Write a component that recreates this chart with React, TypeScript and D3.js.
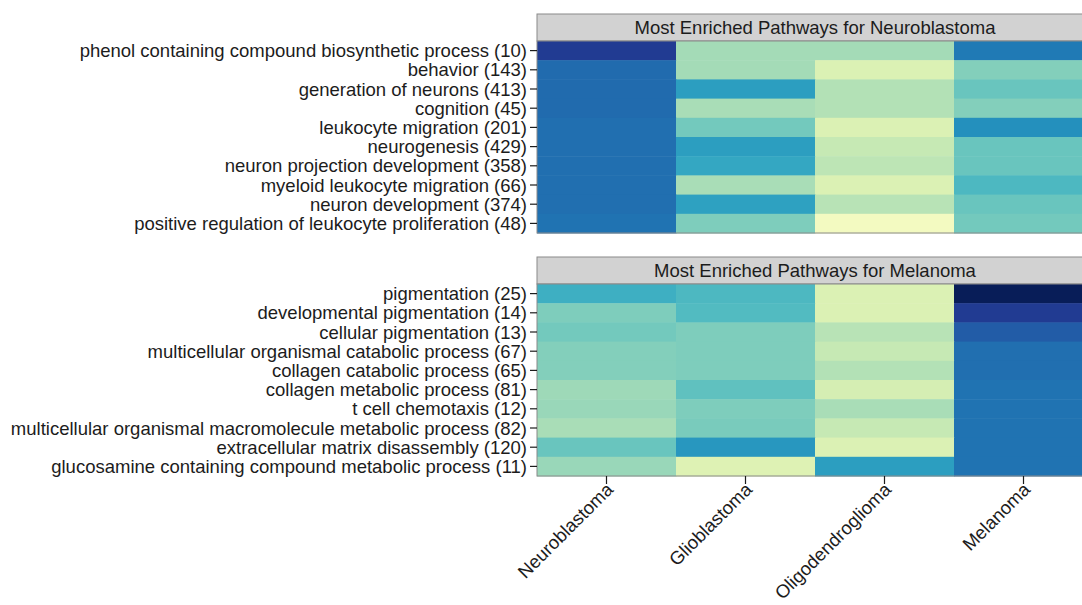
import React from "react";
import * as d3 from "d3";

// Tumour types along the x axis
const tumours = ["Neuroblastoma", "Glioblastoma", "Oligodendroglioma", "Melanoma"];

// Pathways enriched in neuroblastoma (gene counts in brackets)
const neuroPathways = [
  "phenol containing compound biosynthetic process (10)",
  "behavior (143)",
  "generation of neurons (413)",
  "cognition (45)",
  "leukocyte migration (201)",
  "neurogenesis (429)",
  "neuron projection development (358)",
  "myeloid leukocyte migration (66)",
  "neuron development (374)",
  "positive regulation of leukocyte proliferation (48)",
];

// Enrichment scores (0..1) per pathway, columns follow `tumours`
const neuroScores = [
  [0.86, 0.31, 0.31, 0.68],
  [0.72, 0.31, 0.18, 0.37],
  [0.72, 0.58, 0.28, 0.42],
  [0.72, 0.30, 0.28, 0.37],
  [0.71, 0.40, 0.18, 0.62],
  [0.71, 0.58, 0.24, 0.42],
  [0.71, 0.55, 0.26, 0.42],
  [0.71, 0.30, 0.18, 0.48],
  [0.71, 0.57, 0.27, 0.42],
  [0.70, 0.38, 0.08, 0.40],
];

// Pathways enriched in melanoma
const melanomaPathways = [
  "pigmentation (25)",
  "developmental pigmentation (14)",
  "cellular pigmentation (13)",
  "multicellular organismal catabolic process (67)",
  "collagen catabolic process (65)",
  "collagen metabolic process (81)",
  "t cell chemotaxis (12)",
  "multicellular organismal macromolecule metabolic process (82)",
  "extracellular matrix disassembly (120)",
  "glucosamine containing compound metabolic process (11)",
];

const melanomaScores = [
  [0.52, 0.48, 0.18, 1.0],
  [0.38, 0.47, 0.18, 0.86],
  [0.40, 0.38, 0.27, 0.76],
  [0.37, 0.38, 0.24, 0.71],
  [0.37, 0.38, 0.28, 0.71],
  [0.32, 0.44, 0.20, 0.70],
  [0.33, 0.38, 0.30, 0.70],
  [0.30, 0.39, 0.24, 0.70],
  [0.42, 0.60, 0.18, 0.70],
  [0.33, 0.17, 0.58, 0.70],
];

const panelTitles = [
  "Most Enriched Pathways for Neuroblastoma",
  "Most Enriched Pathways for Melanoma",
];

const W = 1082;
const H = 605;
const FONT = "'Liberation Sans', Arial, Helvetica, sans-serif";
const FONT_SIZE = 18.5;
const TEXT = "#1c1c1c";

const left = 537;
const right = 1093;
const stripH = 27;
const rowH = 19.2;

const x = d3.scaleBand<string>().domain(tumours).range([left, right]);
const colour = (v: number) => d3.interpolateYlGnBu(v);

type PanelProps = {
  title: string;
  rows: string[];
  scores: number[][];
  top: number;
  showX: boolean;
};

function Panel({ title, rows, scores, top, showX }: PanelProps) {
  const heatTop = top + stripH;
  const y = d3
    .scaleBand<string>()
    .domain(rows)
    .range([heatTop, heatTop + rows.length * rowH]);
  const bottom = heatTop + rows.length * rowH;
  return (
    <g>
      <rect
        x={left}
        y={top}
        width={right - left}
        height={stripH}
        fill="#d2d2d2"
        stroke="#8a8a8a"
        strokeWidth={1}
      />
      <text
        x={(left + right) / 2}
        y={top + stripH / 2}
        dy="0.36em"
        textAnchor="middle"
        fontFamily={FONT}
        fontSize={FONT_SIZE}
        fill={TEXT}
      >
        {title}
      </text>
      {rows.map((r, i) =>
        tumours.map((t, j) => (
          <rect
            key={r + t}
            x={x(t)!}
            y={y(r)!}
            width={x.bandwidth() + 0.5}
            height={y.bandwidth() + 0.5}
            fill={colour(scores[i][j])}
          />
        ))
      )}
      <rect
        x={left}
        y={heatTop}
        width={right - left}
        height={bottom - heatTop}
        fill="none"
        stroke="#8a8a8a"
        strokeWidth={1}
      />
      {rows.map((r) => {
        const cy = y(r)! + y.bandwidth() / 2;
        return (
          <g key={r}>
            <line x1={left - 7} x2={left} y1={cy} y2={cy} stroke={TEXT} strokeWidth={1.2} />
            <text
              x={left - 10}
              y={cy}
              dy="0.36em"
              textAnchor="end"
              fontFamily={FONT}
              fontSize={FONT_SIZE}
              fill={TEXT}
            >
              {r}
            </text>
          </g>
        );
      })}
      {showX &&
        tumours.map((t) => {
          const cx = x(t)! + x.bandwidth() / 2;
          return (
            <g key={t}>
              <line x1={cx} x2={cx} y1={bottom} y2={bottom + 8} stroke={TEXT} strokeWidth={1.2} />
              <text
                transform={`translate(${cx + 3},${bottom + 10}) rotate(-45)`}
                textAnchor="end"
                dy="0.36em"
                fontFamily={FONT}
                fontSize={FONT_SIZE}
                fill={TEXT}
              >
                {t}
              </text>
            </g>
          );
        })}
    </g>
  );
}

export default function App() {
  return (
    <svg
      width={W}
      height={H}
      viewBox={`0 0 ${W} ${H}`}
      style={{ position: "absolute", left: 0, top: 0, background: "#ffffff" }}
    >
      <rect width={W} height={H} fill="#ffffff" />
      <Panel title={panelTitles[0]} rows={neuroPathways} scores={neuroScores} top={14} showX={false} />
      <Panel title={panelTitles[1]} rows={melanomaPathways} scores={melanomaScores} top={257} showX={true} />
    </svg>
  );
}
